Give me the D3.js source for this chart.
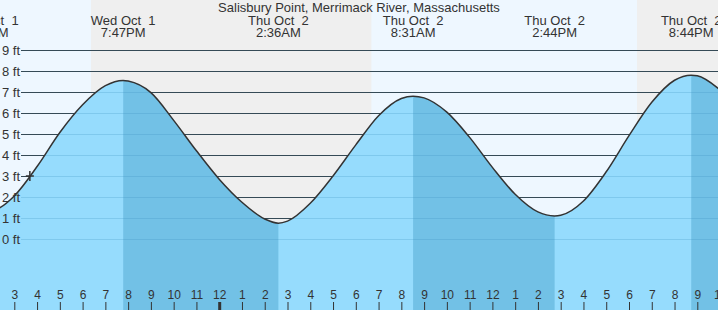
<!DOCTYPE html>
<html>
<head>
<meta charset="utf-8">
<script src="https://cdn.jsdelivr.net/npm/d3@7"></script>
<style>
  html, body { margin: 0; padding: 0; background: #fff; }
  svg { display: block; font-family: "Liberation Sans", Arial, sans-serif; }
</style>
</head>
<body>
<svg id="chart" width="718" height="310"></svg>
<script>
// ---- data ----
const title = "Salisbury Point, Merrimack River, Massachusetts";

const tideTimes = [
  "2025-10-01 13:46", "2025-10-01 14:00", "2025-10-01 15:00", "2025-10-01 16:00",
  "2025-10-01 17:00", "2025-10-01 18:00", "2025-10-01 19:00", "2025-10-01 19:47",
  "2025-10-01 20:00", "2025-10-01 21:00", "2025-10-01 22:00", "2025-10-01 23:00",
  "2025-10-02 00:00", "2025-10-02 01:00", "2025-10-02 02:00", "2025-10-02 02:36",
  "2025-10-02 03:00", "2025-10-02 04:00", "2025-10-02 05:00", "2025-10-02 06:00",
  "2025-10-02 07:00", "2025-10-02 08:00", "2025-10-02 08:31", "2025-10-02 09:00",
  "2025-10-02 10:00", "2025-10-02 11:00", "2025-10-02 12:00", "2025-10-02 13:00",
  "2025-10-02 14:00", "2025-10-02 14:44", "2025-10-02 15:00", "2025-10-02 16:00",
  "2025-10-02 17:00", "2025-10-02 18:00", "2025-10-02 19:00", "2025-10-02 20:00",
  "2025-10-02 20:44", "2025-10-02 21:00", "2025-10-02 22:00"
];
const tideHeights = [
  1.25, 1.30, 2.05, 3.45,
  5.07, 6.39, 7.30, 7.55,
  7.52, 6.97, 5.65, 4.20,
  2.85, 1.75, 0.95, 0.75,
  0.85, 1.70, 3.00, 4.48,
  5.87, 6.69, 6.80, 6.72,
  6.04, 4.84, 3.41, 2.13,
  1.29, 1.10, 1.13, 1.81,
  3.20, 4.92, 6.51, 7.56,
  7.80, 7.77, 7.10
];

const extremeTimes  = ["2025-10-01 13:46", "2025-10-01 19:47", "2025-10-02 02:36", "2025-10-02 08:31", "2025-10-02 14:44", "2025-10-02 20:44"];
const extremeTypes  = ["L", "H", "L", "H", "L", "H"];
const extremeDays   = ["Wed Oct  1", "Wed Oct  1", "Thu Oct  2", "Thu Oct  2", "Thu Oct  2", "Thu Oct  2"];
const extremeClock  = ["1:46PM", "7:47PM", "2:36AM", "8:31AM", "2:44PM", "8:44PM"];

const sunsetTimes  = ["2025-10-01 18:22", "2025-10-02 18:21"];
const sunriseTimes = ["2025-10-02 06:41"];

const nowTime = "2025-10-01 15:41";
const nowHeight = 3.0;

const feetTicks = [0, 1, 2, 3, 4, 5, 6, 7, 8, 9];
const hourStart = "2025-10-01 15:00";
const hourEnd = "2025-10-02 22:00";

// ---- setup ----
const W = 718, H = 310;
const parse = d3.timeParse("%Y-%m-%d %H:%M");
const svg = d3.select("#chart");

const x = d3.scaleTime()
  .domain([parse("2025-10-01 15:00"), parse("2025-10-02 21:00")])
  .range([14.3, 697.3]);
const y = d3.scaleLinear().domain([0, 9]).range([239, 50]);

const viewStart = x.invert(0), viewEnd = x.invert(W);

// ---- background day/night bands ----
const dayColor = "#eef7ff", nightColor = "#efefef";
svg.append("rect").attr("x", 0).attr("y", 0).attr("width", W).attr("height", H).attr("fill", dayColor);
const sets = sunsetTimes.map(parse), rises = sunriseTimes.map(parse);
const nights = sets.map((s, i) => [s, rises[i] || viewEnd]);
svg.selectAll("rect.night").data(nights).join("rect")
  .attr("class", "night")
  .attr("x", d => x(d[0]))
  .attr("y", 0)
  .attr("width", d => Math.min(W, x(d[1])) - x(d[0]))
  .attr("height", H)
  .attr("fill", nightColor);

// ---- grid lines (dark) ----
const gridX0 = 21;
svg.selectAll("line.grid").data(feetTicks).join("line")
  .attr("class", "grid")
  .attr("x1", gridX0).attr("x2", W)
  .attr("y1", d => y(d) + 0.5).attr("y2", d => y(d) + 0.5)
  .attr("stroke", "#333").attr("stroke-width", 1);

// ---- water ----
const pts = tideTimes.map((t, i) => ({ t: parse(t), h: tideHeights[i] }));
const area = d3.area().x(d => x(d.t)).y0(H).y1(d => y(d.h)).curve(d3.curveMonotoneX);
const line = d3.line().x(d => x(d.t)).y(d => y(d.h)).curve(d3.curveMonotoneX);

svg.append("path").datum(pts).attr("d", area).attr("fill", "#96dcfd");

// falling-tide intervals (high -> next low) drawn darker
const ext = extremeTimes.map((t, i) => ({ t: parse(t), type: extremeTypes[i] }));
const falls = [];
ext.forEach((e, i) => {
  if (e.type === "H") {
    const nxt = ext.slice(i + 1).find(n => n.type === "L");
    falls.push([e.t, nxt ? nxt.t : viewEnd]);
  }
});
const defs = svg.append("defs");
falls.forEach((f, i) => {
  defs.append("clipPath").attr("id", "fall" + i)
    .append("rect")
    .attr("x", x(f[0])).attr("y", 0)
    .attr("width", Math.min(W + 5, x(f[1])) - x(f[0]))
    .attr("height", H);
  svg.append("path").datum(pts).attr("d", area)
    .attr("fill", "#72c1e6")
    .attr("clip-path", `url(#fall${i})`);
});

// faint grid lines over water
svg.selectAll("line.gridf").data(feetTicks).join("line")
  .attr("class", "gridf")
  .attr("x1", gridX0).attr("x2", W)
  .attr("y1", d => y(d) + 0.5).attr("y2", d => y(d) + 0.5)
  .attr("stroke", "#3a8fc0").attr("stroke-opacity", 0.25).attr("stroke-width", 1);

// tide curve
svg.append("path").datum(pts).attr("d", line)
  .attr("fill", "none").attr("stroke", "#333").attr("stroke-width", 1.5);

// ---- y labels ----
svg.selectAll("text.ft").data(feetTicks).join("text")
  .attr("class", "ft")
  .attr("x", 20).attr("y", d => y(d) + 0.5)
  .attr("dy", "0.36em")
  .attr("text-anchor", "end")
  .attr("font-size", 13)
  .attr("fill", "#333")
  .text(d => `${d} ft`);

// ---- current marker ----
const nx = x(parse(nowTime)), ny = y(nowHeight);
svg.append("path")
  .attr("d", `M${nx - 4},${ny}H${nx + 4}M${nx},${ny - 5}V${ny + 5}`)
  .attr("stroke", "#333").attr("stroke-width", 1.5).attr("fill", "none");

// ---- title & extreme labels ----
svg.append("text").attr("x", W / 2).attr("y", 12)
  .attr("text-anchor", "middle").attr("font-size", 13).attr("fill", "#333")
  .text(title);

const lab = svg.selectAll("g.ext").data(extremeTimes).join("g")
  .attr("class", "ext")
  .attr("transform", d => `translate(${x(parse(d))},0)`);
lab.append("text").attr("y", 24.5).attr("text-anchor", "middle")
  .attr("font-size", 13).attr("fill", "#333").style("white-space", "pre")
  .attr("xml:space", "preserve")
  .text((d, i) => extremeDays[i]);
lab.append("text").attr("y", 36.5).attr("text-anchor", "middle")
  .attr("font-size", 13).attr("fill", "#333")
  .text((d, i) => extremeClock[i]);

// ---- hour axis ----
const hours = d3.timeHour.range(parse(hourStart), d3.timeHour.offset(parse(hourEnd), 1));
const axis = d3.axisTop(x).tickValues(hours).tickSize(8).tickPadding(3)
  .tickFormat(d3.timeFormat("%-I"));
const ag = svg.append("g").attr("transform", `translate(0,${H})`).call(axis);
ag.select(".domain").remove();
ag.selectAll(".tick line")
  .attr("stroke", "#333")
  .attr("stroke-width", d => d.getHours() === 0 ? 3 : 1);
ag.selectAll(".tick text")
  .attr("fill", "#333")
  .attr("font-size", 12)
  .attr("font-family", "'Liberation Sans', Arial, sans-serif");
</script>
</body>
</html>
